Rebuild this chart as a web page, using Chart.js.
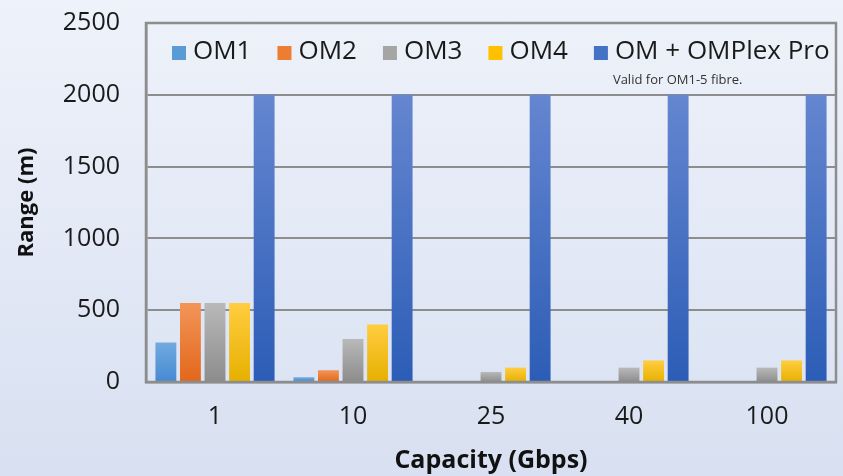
<!DOCTYPE html>
<html>
<head>
<meta charset="utf-8">
<script src="https://cdn.jsdelivr.net/npm/chart.js@4/dist/chart.umd.min.js"></script>
<style>
    html, body { margin: 0; padding: 0; }
    body {
        width: 843px;
        height: 476px;
        background: linear-gradient(#eef2fa, #d8e0f1);
        overflow: hidden;
    }
    canvas { display: block; }
</style>
</head>
<body>
<canvas id="range-chart" width="843" height="476"></canvas>
<script>
// Data
const categories = ['1', '10', '25', '40', '100'];
const seriesNames = ['OM1', 'OM2', 'OM3', 'OM4', 'OM + OMPlex Pro'];
const om1Values = [275, 33, null, null, null];
const om2Values = [550, 82, null, null, null];
const om3Values = [550, 300, 70, 100, 100];
const om4Values = [550, 400, 100, 150, 150];
const omplexValues = [2000, 2000, 2000, 2000, 2000];
const yTicks = [0, 500, 1000, 1500, 2000, 2500];
const noteText = 'Valid for OM1-5 fibre.';

// Colours (top, bottom of each bar, flat)
const palette = [
    ['#72aae0', '#4689d1', '#5b9bd5'],
    ['#f39559', '#e2671a', '#ed7d31'],
    ['#b9b9b9', '#8c8c8c', '#a5a5a5'],
    ['#ffcd40', '#e6b000', '#ffc000'],
    ['#6586d0', '#2c5db6', '#4472c4']
];

const FONT = '"Open Sans", sans-serif';
const GRID = '#8d8d8d';
const TEXT = '#1a1a1a';

function barFill(idx) {
    return function(ctx) {
        const chart = ctx.chart;
        const c = palette[idx];
        if (ctx.type !== 'data' || ctx.raw == null || !chart.chartArea) return c[2];
        const y = chart.scales.y;
        const top = y.getPixelForValue(ctx.raw);
        const bottom = y.getPixelForValue(0);
        if (!isFinite(top) || bottom - top < 1) return c[2];
        const g = chart.ctx.createLinearGradient(0, top, 0, bottom);
        g.addColorStop(0, c[0]);
        g.addColorStop(1, c[1]);
        return g;
    };
}

const allValues = [om1Values, om2Values, om3Values, om4Values, omplexValues];
const datasets = allValues.map((vals, i) => ({
    label: seriesNames[i],
    data: vals,
    backgroundColor: barFill(i),
    borderWidth: 0,
    categoryPercentage: 0.89,
    barPercentage: 0.85
}));

// Frame round the plot area, a one-row legend inside it, and the note
const framePlugin = {
    id: 'frame',
    afterDatasetsDraw(chart) {
        const a = chart.chartArea;
        const ctx = chart.ctx;
        ctx.save();
        ctx.strokeStyle = GRID;
        ctx.lineWidth = 2.5;
        ctx.strokeRect(a.left, a.top, a.right - a.left, a.bottom - a.top);
        ctx.restore();
    },
    afterDraw(chart) {
        const a = chart.chartArea;
        const ctx = chart.ctx;
        const box = 14, gap = 7, spacing = 26;
        const rowY = a.top + 29;
        ctx.save();
        ctx.font = '26px ' + FONT;
        ctx.textBaseline = 'middle';
        ctx.textAlign = 'left';
        let x = a.left + 26;
        let lastTextX = x;
        chart.data.datasets.forEach((ds, i) => {
            ctx.fillStyle = palette[i][2];
            ctx.fillRect(x, rowY - box / 2 + 1, box, box);
            x += box + gap;
            lastTextX = x;
            ctx.fillStyle = TEXT;
            ctx.fillText(ds.label, x, rowY);
            x += ctx.measureText(ds.label).width + spacing;
        });
        ctx.fillStyle = '#333333';
        ctx.font = '13px ' + FONT;
        ctx.fillText(noteText, lastTextX - 2, a.top + 57);
        ctx.restore();
    }
};

new Chart(document.getElementById('range-chart'), {
    type: 'bar',
    data: { labels: categories, datasets: datasets },
    options: {
        responsive: false,
        animation: false,
        devicePixelRatio: 1,
        layout: { padding: { left: 0, right: 7, top: 23, bottom: 0 } },
        plugins: {
            legend: { display: false },
            tooltip: { enabled: false }
        },
        scales: {
            x: {
                grid: { display: false, drawTicks: false },
                border: { display: true, color: GRID, width: 2.5 },
                ticks: {
                    color: TEXT,
                    padding: 20,
                    font: { family: FONT, size: 25 }
                },
                title: {
                    display: true,
                    text: 'Capacity (Gbps)',
                    color: '#111111',
                    font: { family: FONT, size: 25, weight: 'bold' },
                    padding: { top: 7, bottom: 0 }
                },
                afterFit(scale) { scale.height = 94; }
            },
            y: {
                min: 0,
                max: 2500,
                afterBuildTicks(scale) {
                    scale.ticks = yTicks.map(v => ({ value: v }));
                },
                grid: { color: GRID, lineWidth: 2, drawTicks: false },
                border: { display: true, color: GRID, width: 2.5 },
                ticks: {
                    color: TEXT,
                    padding: 26,
                    font: { family: FONT, size: 25 },
                    callback: v => String(v)
                },
                title: {
                    display: true,
                    text: 'Range (m)',
                    color: '#111111',
                    font: { family: FONT, size: 22, weight: 'bold' },
                    padding: { top: 14, bottom: 0 }
                },
                afterFit(scale) {
                    scale.width = 146;
                    scale.paddingTop = 0;
                    scale.paddingBottom = 0;
                }
            }
        }
    },
    plugins: [framePlugin]
});
</script>
</body>
</html>
